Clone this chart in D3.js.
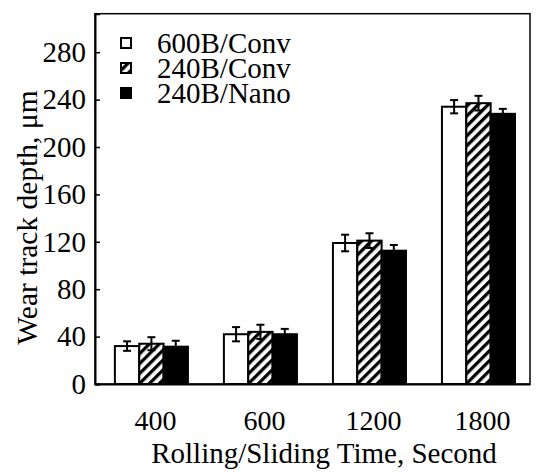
<!DOCTYPE html>
<html>
<head>
<meta charset="utf-8">
<script src="https://cdn.jsdelivr.net/npm/d3@7"></script>
<style>
  html, body { margin: 0; padding: 0; background: #fff; }
  svg { display: block; }
  text { font-family: "Liberation Serif", "Times New Roman", serif; fill: #000; }
</style>
</head>
<body>
<svg id="chart" width="536" height="472"></svg>
<script>
// ---- data ----
const categories = ["400", "600", "1200", "1800"];
const seriesNames = ["600B/Conv", "240B/Conv", "240B/Nano"];
const conv600 = [32, 42, 119, 234];
const conv240 = [34, 44, 121, 237];
const nano240 = [31.5, 42, 112.5, 228];
const errConv600 = [4, 6, 7, 5.6];
const errConv240 = [5.5, 6, 6.2, 6.2];
const errNano240 = [5, 4.5, 4.8, 4.2];
const yTicks = [0, 40, 80, 120, 160, 200, 240, 280];
const xTitle = "Rolling/Sliding Time, Second";
const yTitle = "Wear track depth, \u03bcm";

const seriesValues = [conv600, conv240, nano240];
const seriesErrors = [errConv600, errConv240, errNano240];
const fills = ["#fff", "url(#hatch)", "#000"];

// ---- layout ----
const plotL = 95, plotR = 530, plotT = 13.7, plotB = 384;

const svg = d3.select("#chart");
const defs = svg.append("defs");
const pat = defs.append("pattern")
  .attr("id", "hatch")
  .attr("patternUnits", "userSpaceOnUse")
  .attr("width", 7).attr("height", 7)
  .attr("patternTransform", "rotate(45)");
pat.append("rect").attr("width", 7).attr("height", 7).attr("fill", "#fff");
pat.append("rect").attr("x", 0).attr("y", 0).attr("width", 3.3).attr("height", 7).attr("fill", "#000");

const x0 = d3.scaleBand().domain(categories).range([plotL, plotR])
  .paddingInner(0.33).paddingOuter(0.16).align(0.57);
const x1 = d3.scaleBand().domain(seriesNames).range([0, x0.bandwidth()]).padding(0);
const y = d3.scaleLinear().domain([0, 312.5]).range([plotB, plotT]);

// frame
svg.append("rect")
  .attr("x", plotL).attr("y", plotT)
  .attr("width", plotR - plotL).attr("height", plotB - plotT)
  .attr("fill", "none").attr("stroke", "#000").attr("stroke-width", 1.5);

// bars
const groups = svg.append("g").selectAll("g")
  .data(categories).join("g")
  .attr("transform", d => `translate(${x0(d)},0)`);

const rowsFor = (c, i) => seriesNames.map((s, k) => ({ s, k, v: seriesValues[k][i], e: seriesErrors[k][i] }));

groups.selectAll("rect")
  .data(rowsFor)
  .join("rect")
  .attr("x", d => x1(d.s))
  .attr("y", d => y(d.v))
  .attr("width", x1.bandwidth())
  .attr("height", d => y(0) - y(d.v))
  .attr("fill", d => fills[d.k])
  .attr("stroke", "#000")
  .attr("stroke-width", 2);

// error bars
const eb = groups.selectAll("g.err")
  .data(rowsFor)
  .join("g").attr("class", "err");
const cx = d => x1(d.s) + x1.bandwidth() / 2;
eb.append("line")
  .attr("x1", cx).attr("x2", cx)
  .attr("y1", d => y(d.v + d.e)).attr("y2", d => y(d.v - d.e))
  .attr("stroke", "#000").attr("stroke-width", 2);
eb.append("line")
  .attr("x1", d => cx(d) - 4).attr("x2", d => cx(d) + 4)
  .attr("y1", d => y(d.v + d.e)).attr("y2", d => y(d.v + d.e))
  .attr("stroke", "#000").attr("stroke-width", 2);
eb.append("line")
  .attr("x1", d => cx(d) - 4).attr("x2", d => cx(d) + 4)
  .attr("y1", d => y(d.v - d.e)).attr("y2", d => y(d.v - d.e))
  .attr("stroke", "#000").attr("stroke-width", 2);

// y axis
const yAxis = svg.append("g")
  .attr("transform", `translate(${plotL},0)`)
  .call(d3.axisLeft(y).tickValues(yTicks).tickSize(-5).tickPadding(9).tickFormat(d3.format("d")));
yAxis.select(".domain").attr("stroke-width", 2);
yAxis.selectAll(".tick line").attr("stroke-width", 1.5);
yAxis.selectAll("text").style("font-size", "29px").attr("fill", "#000");

// x axis
const xAxis = svg.append("g")
  .attr("transform", `translate(0,${plotB})`)
  .call(d3.axisBottom(x0).tickSize(0).tickPadding(26));
xAxis.select(".domain").attr("stroke-width", 2);
xAxis.selectAll("text").style("font-size", "28px").attr("fill", "#000").attr("dx", 4);

// axis titles
svg.append("text")
  .attr("x", 324).attr("y", 463)
  .attr("text-anchor", "middle")
  .style("font-size", "29px")
  .text(xTitle);

svg.append("text")
  .attr("transform", "translate(37,217.5) rotate(-90)")
  .attr("text-anchor", "middle")
  .style("font-size", "29.5px")
  .text(yTitle);

// legend
const leg = svg.append("g").selectAll("g")
  .data(seriesNames).join("g")
  .attr("transform", (d, i) => `translate(121,${53 + i * 25})`);
leg.append("rect")
  .attr("x", 0).attr("y", -15).attr("width", 10).attr("height", 10)
  .attr("fill", (d, i) => fills[i]).attr("stroke", "#000").attr("stroke-width", 2);
leg.append("text")
  .attr("x", 36).attr("y", 0)
  .style("font-size", "29px")
  .text(d => d);
</script>
</body>
</html>
